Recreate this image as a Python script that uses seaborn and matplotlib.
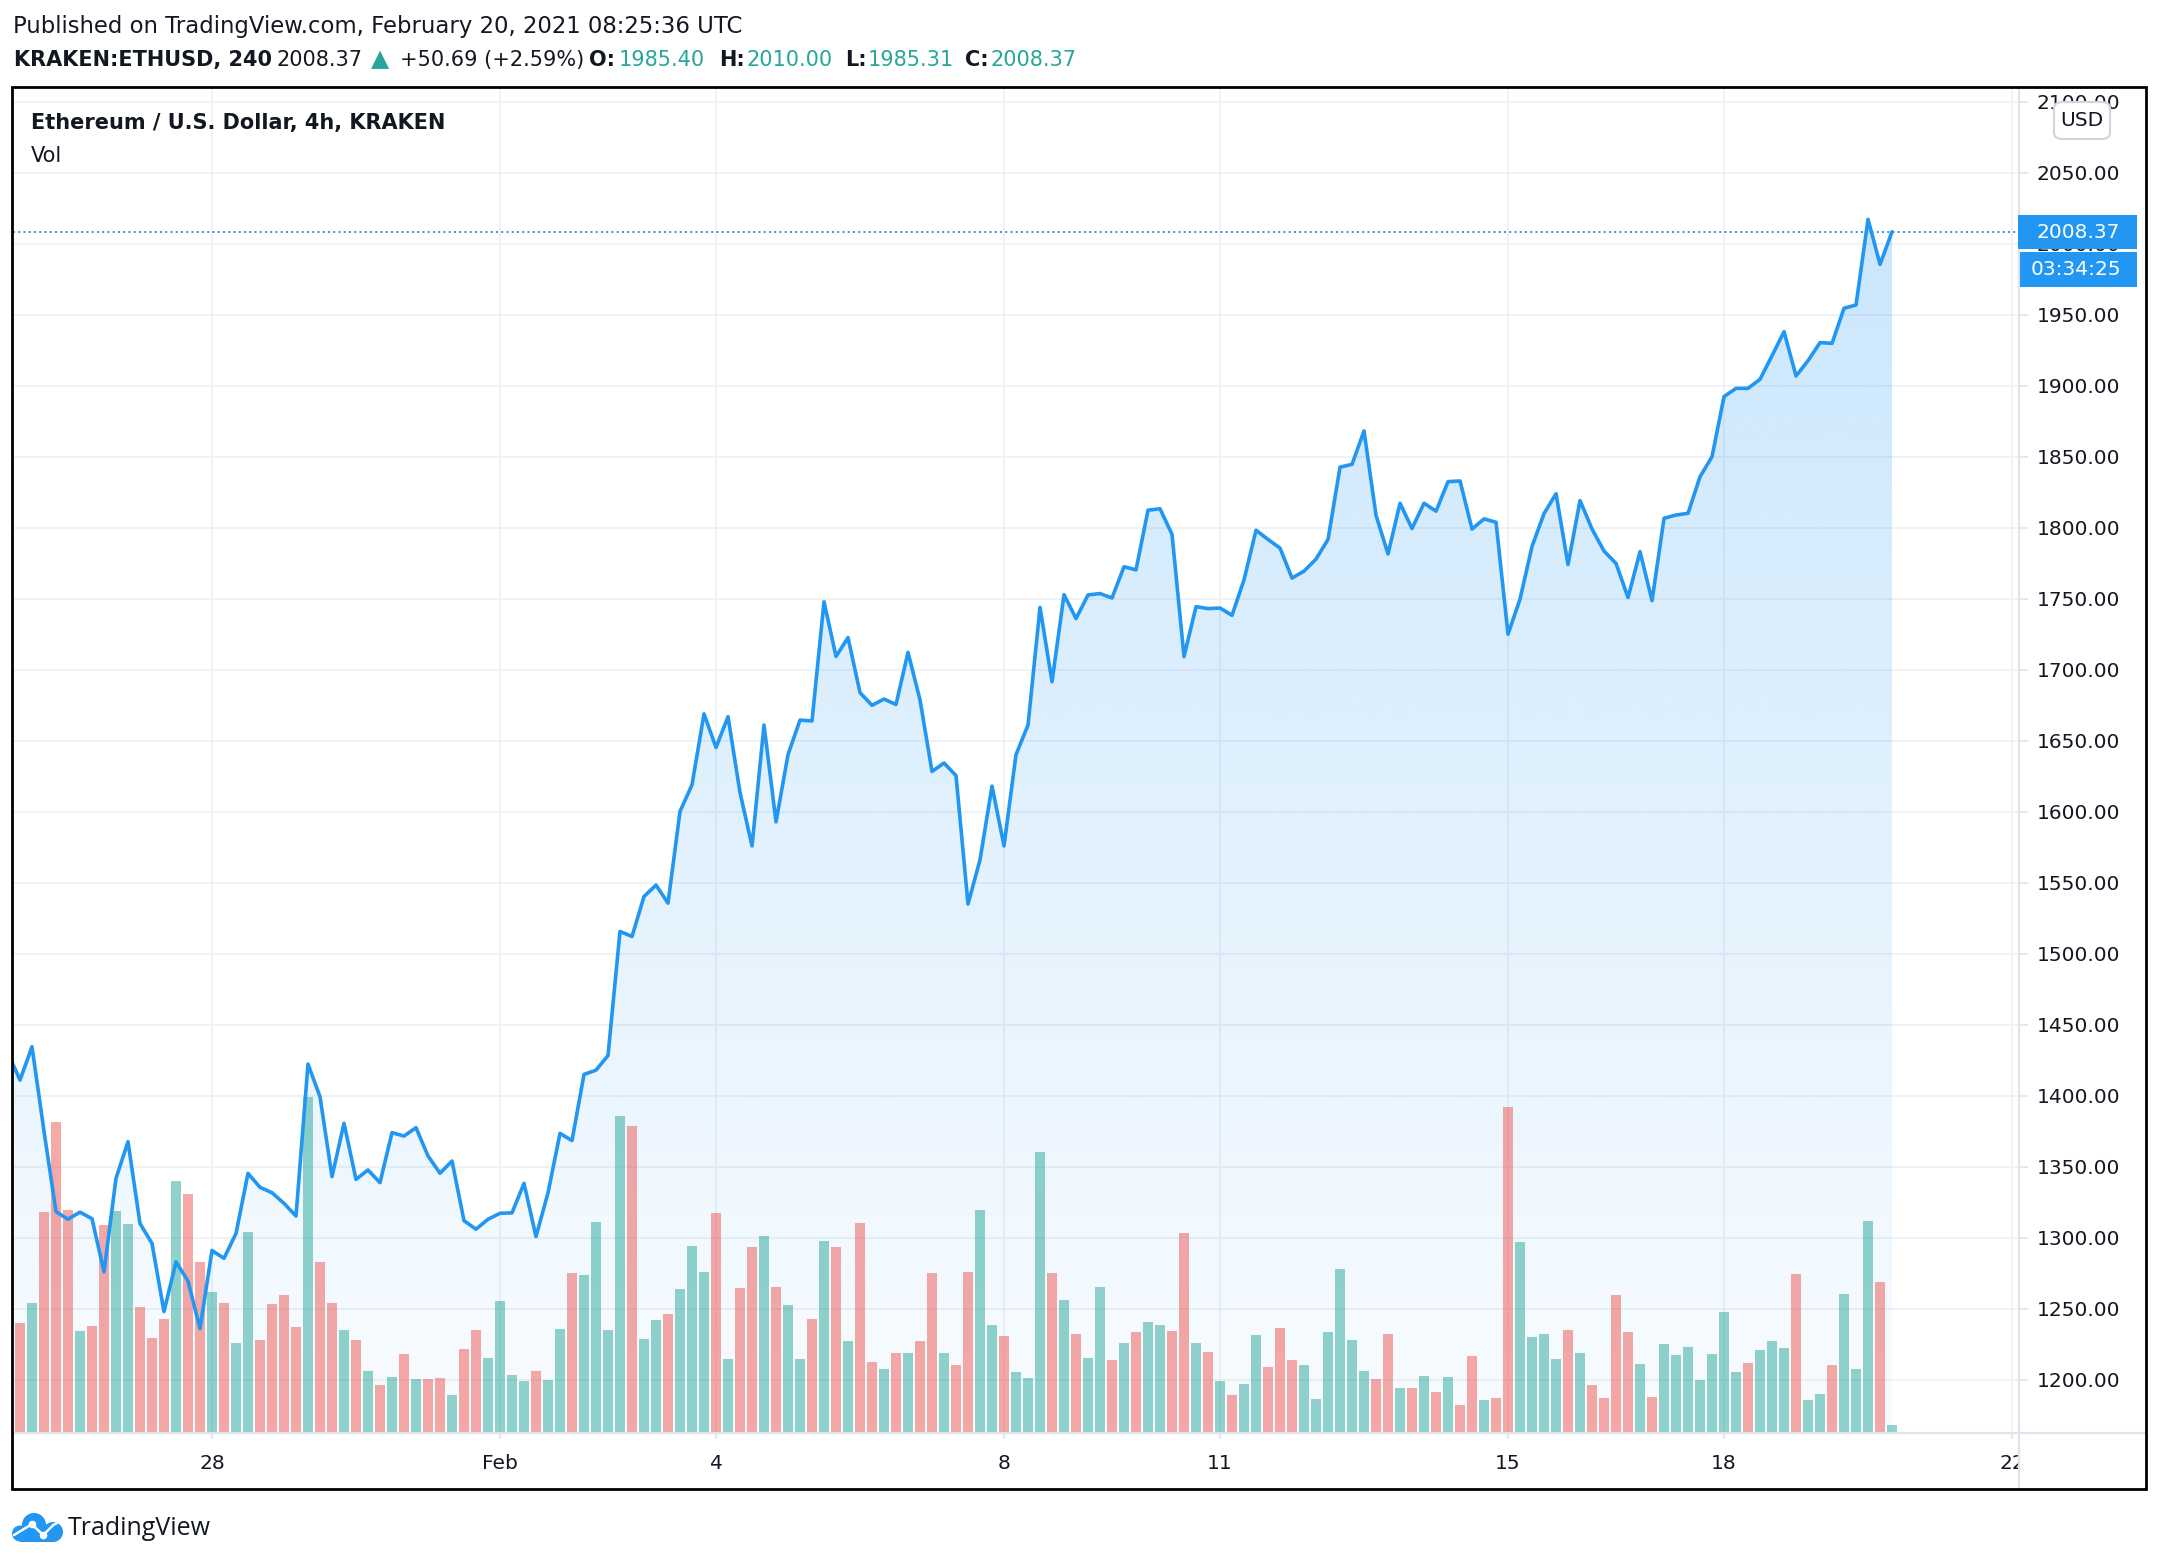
import matplotlib
matplotlib.use('Agg')
import matplotlib.pyplot as plt
import matplotlib.dates as mdates
from matplotlib.patches import Polygon, Rectangle, FancyBboxPatch, Circle
from matplotlib.lines import Line2D
import numpy as np
import pandas as pd
import seaborn as sns

# ETH/USD 4h closes; the first value is the bar just left of the window
close = [1430,
         1411, 1434.5, 1375, 1318.4, 1313, 1318, 1313.4, 1276, 1341.8, 1367.6,
         1310, 1296, 1248, 1283, 1269.5, 1236, 1291, 1285.5, 1303, 1345.3,
         1335.5, 1331.7, 1324.2, 1315.3, 1422.3, 1399.3, 1343, 1380.6, 1341.1, 1347.7,
         1338.8, 1374, 1371.6, 1377.5, 1357.6, 1345.4, 1354, 1312, 1306, 1313,
         1317.2, 1317.5, 1338.3, 1300.8, 1331.6, 1373.5, 1368.4, 1415, 1418, 1428.3,
         1515.7, 1512.1, 1540.3, 1548.3, 1535.6, 1600.2, 1618.9, 1668.9, 1645.2, 1666.9,
         1613.5, 1575.9, 1661, 1592.8, 1640.2, 1664.5, 1663.9, 1747.8, 1709.3, 1722.6,
         1683.8, 1674.9, 1679.3, 1675.5, 1712.2, 1678.7, 1628.3, 1634.3, 1625.4, 1535,
         1566.1, 1618, 1575.9, 1640.2, 1661, 1743.9, 1691.5, 1752.8, 1736, 1752.6,
         1753.6, 1750.5, 1772.5, 1770.3, 1812.3, 1813.3, 1795.3, 1709.2, 1744.4, 1743,
         1743.4, 1738.3, 1763.3, 1798.2, 1791.7, 1785.6, 1764.5, 1769.4, 1777.9, 1791.7,
         1842.6, 1844.6, 1868.1, 1808.7, 1781.5, 1817.2, 1799.4, 1817.2, 1811.6, 1832.4,
         1832.9, 1799, 1806.2, 1803.8, 1725, 1749.7, 1786.8, 1809.9, 1823.9, 1774,
         1819.1, 1799, 1783.5, 1774.8, 1750.8, 1783.1, 1748.6, 1806.6, 1808.9, 1810.1,
         1835.9, 1850, 1892.3, 1898.1, 1898.1, 1904.5, 1921.1, 1938, 1906.8, 1917.6,
         1930.3, 1929.8, 1954.5, 1956.8, 2017.1, 1985.4, 2008.37]

# volume per bar (relative units), from Jan 25 08:00 to Feb 20 08:00
volume = [327, 386, 659, 929, 665, 302, 317, 620, 662, 623,
          374, 281, 338, 752, 713, 509, 419, 386, 266, 599,
          275, 383, 410, 314, 1004, 509, 386, 305, 275, 182,
          140, 164, 233, 158, 158, 161, 110, 248, 305, 221,
          392, 170, 152, 182, 155, 308, 476, 470, 629, 305,
          947, 917, 278, 335, 353, 428, 557, 479, 656, 218,
          431, 554, 587, 434, 380, 218, 338, 572, 554, 272,
          626, 209, 188, 236, 236, 272, 476, 236, 200, 479,
          665, 320, 287, 179, 161, 839, 476, 395, 293, 221,
          434, 215, 266, 299, 329, 320, 302, 596, 266, 239,
          152, 110, 143, 290, 194, 311, 215, 200, 98, 299,
          488, 275, 182, 158, 293, 131, 131, 167, 119, 164,
          80, 227, 95, 101, 974, 569, 284, 293, 218, 305,
          236, 140, 101, 410, 299, 203, 104, 263, 230, 254,
          155, 233, 359, 179, 206, 245, 272, 251, 473, 95,
          113, 200, 413, 188, 632, 449, 20]

# 1 = bar closed up (teal), 0 = closed down (red)
up = [0, 1, 0, 0, 0, 1, 0, 0, 1, 1,
      0, 0, 0, 1, 0, 0, 1, 0, 1, 1,
      0, 0, 0, 0, 1, 0, 0, 1, 0, 1,
      0, 1, 0, 1, 0, 0, 1, 0, 0, 1,
      1, 1, 1, 0, 1, 1, 0, 1, 1, 1,
      1, 0, 1, 1, 0, 1, 1, 1, 0, 1,
      0, 0, 1, 0, 1, 1, 0, 1, 0, 1,
      0, 0, 1, 0, 1, 0, 0, 1, 0, 0,
      1, 1, 0, 1, 1, 1, 0, 1, 0, 1,
      1, 0, 1, 0, 1, 1, 0, 0, 1, 0,
      1, 0, 1, 1, 0, 0, 0, 1, 1, 1,
      1, 1, 1, 0, 0, 1, 0, 1, 0, 1,
      0, 0, 1, 0, 0, 1, 1, 1, 1, 0,
      1, 0, 0, 0, 0, 1, 0, 1, 1, 1,
      1, 1, 1, 1, 0, 1, 1, 1, 0, 1,
      1, 0, 1, 1, 1, 0, 1]

tick_days = ['2021-01-28', '2021-02-01', '2021-02-04', '2021-02-08',
             '2021-02-11', '2021-02-15', '2021-02-18', '2021-02-22']
tick_labels = ['28', 'Feb', '4', '8', '11', '15', '18', '22']
price_ticks = list(range(1200, 2101, 50))
last_price = 2008.37
countdown = '03:34:25'

W, H = 2160, 1564
DARK = '#131722'
BLUE = '#2196f3'
TEAL = '#26a69a'
GRID = '#eef0f3'
SEP = '#e0e3eb'


def fx(px):
    return px / W


def fy(py):
    return 1 - py / H


sns.set_style('white')
plt.rcParams['font.family'] = ['DejaVu Sans']

df = pd.DataFrame({'time': pd.date_range('2021-01-25 04:00', periods=len(close), freq='4h'),
                   'close': close})
df['x'] = mdates.date2num(df['time'])
vol = pd.DataFrame({'x': df['x'].values[1:], 'volume': volume, 'up': up})

fig = plt.figure(figsize=(W / 100, H / 100), dpi=100)
ax = fig.add_axes([fx(13), fy(1432), fx(2019) - fx(13), fy(87) - fy(1432)])

step = 1 / 6
t0 = vol['x'].iloc[0]
x_lo, x_hi = t0 - 0.583 * step, t0 + 166.58 * step
y_lo, y_hi = 1163.2, 2110.3

# gradient area under the line
rgba = np.zeros((256, 1, 4))
rgba[..., 0], rgba[..., 1], rgba[..., 2] = 33 / 255, 150 / 255, 243 / 255
rgba[..., 3] = np.linspace(0.03, 0.26, 256)[:, None]
im = ax.imshow(rgba, extent=[x_lo, x_hi, y_lo, y_hi], origin='lower', aspect='auto',
               interpolation='bilinear', zorder=1)
verts = [(df['x'].iloc[0], y_lo)] + list(zip(df['x'], df['close'])) + [(df['x'].iloc[-1], y_lo)]
area = Polygon(verts, closed=True, facecolor='none', edgecolor='none')
ax.add_patch(area)
im.set_clip_path(area)

# volume overlay (bottom quarter of the pane)
k = 0.249 * (y_hi - y_lo) / max(volume)
bar_colors = [(38 / 255, 166 / 255, 154 / 255, 0.5) if u else (239 / 255, 83 / 255, 80 / 255, 0.5)
              for u in vol['up']]
ax.bar(vol['x'], vol['volume'] * k, width=0.83 * step, bottom=y_lo, color=bar_colors,
       linewidth=0, zorder=2)

sns.lineplot(data=df, x='x', y='close', ax=ax, color=BLUE, linewidth=2.6,
             estimator=None, zorder=3)
ax.axhline(last_price, color=BLUE, linewidth=1.4, linestyle=(0, (1, 1.7)), zorder=3)

ax.set_xlim(x_lo, x_hi)
ax.set_ylim(y_lo, y_hi)
ax.set_xlabel('')
ax.set_ylabel('')
for s in ax.spines.values():
    s.set_visible(False)

ax.set_yticks(price_ticks)
ax.set_yticklabels([f'{v:.2f}' for v in price_ticks])
ax.yaxis.tick_right()
ax.tick_params(axis='y', left=False, right=True, length=6.5, width=1.2, color=SEP,
               pad=6, labelsize=14.5, labelcolor=DARK)
ax.set_xticks(mdates.date2num(pd.to_datetime(tick_days)))
ax.set_xticklabels(tick_labels)
ax.tick_params(axis='x', bottom=True, length=5, width=1.2, color=SEP,
               pad=11, labelsize=14.5, labelcolor=DARK)
ax.grid(True, color=GRID, linewidth=1.2)
ax.set_axisbelow(True)

# right price scale hides the end of the time scale
fig.add_artist(Rectangle((fx(2020), fy(1488)), fx(2145) - fx(2020), (1488 - 1434) / H,
                         transform=fig.transFigure, facecolor='white', edgecolor='none', zorder=5))
fig.add_artist(Line2D([fx(13), fx(2146)], [fy(1432.5), fy(1432.5)], color=SEP, linewidth=1.6, zorder=6))
fig.add_artist(Line2D([fx(2019), fx(2019)], [fy(87), fy(1489)], color=SEP, linewidth=1.6, zorder=6))
fig.add_artist(Rectangle((fx(12), fy(1489)), fx(2146) - fx(12), (1489 - 87) / H,
                         transform=fig.transFigure, fill=False, edgecolor='black', linewidth=2, zorder=7))

# last price and countdown labels
fig.add_artist(Rectangle((fx(2018), fy(249)), fx(2137) - fx(2018), 34 / H,
                         transform=fig.transFigure, facecolor=BLUE, edgecolor='none', zorder=8))
fig.add_artist(Rectangle((fx(2020), fy(287)), fx(2137) - fx(2020), 35 / H,
                         transform=fig.transFigure, facecolor=BLUE, edgecolor='none', zorder=8))
fig.text(fx(2078), fy(232), f'{last_price:.2f}', color='white', fontsize=14.5,
         ha='center', va='center', zorder=9)
fig.text(fx(2076), fy(269.5), countdown, color='white', fontsize=14.5,
         ha='center', va='center', zorder=9)

fig.add_artist(FancyBboxPatch((fx(2054), fy(139)), fx(2110) - fx(2054), 37 / H,
                              boxstyle='round,pad=0,rounding_size=0.004',
                              transform=fig.transFigure, facecolor='white',
                              edgecolor='#d1d4dc', linewidth=1.5, zorder=8))
fig.text(fx(2082), fy(120.5), 'USD', color=DARK, fontsize=14.5, ha='center', va='center', zorder=9)

# legend inside the pane
fig.text(fx(31), fy(128.5), 'Ethereum / U.S. Dollar, 4h, KRAKEN', color=DARK, fontsize=15,
         fontweight='bold', va='baseline', zorder=9)
fig.text(fx(31), fy(162), 'Vol', color=DARK, fontsize=15, va='baseline', zorder=9)

# header
fig.text(fx(13), fy(32.7), 'Published on TradingView.com, February 20, 2021 08:25:36 UTC',
         color=DARK, fontsize=16.4, va='baseline')
header = [('KRAKEN:ETHUSD, 240', 14, 'bold', DARK, 15),
          ('2008.37', 277, 'normal', DARK, 15),
          ('\u25b2', 371, 'normal', TEAL, 17),
          ('+50.69 (+2.59%)', 400, 'normal', DARK, 15),
          ('O:', 589, 'bold', DARK, 15),
          ('1985.40', 619, 'normal', TEAL, 15),
          ('H:', 719, 'bold', DARK, 15),
          ('2010.00', 747, 'normal', TEAL, 15),
          ('L:', 845, 'bold', DARK, 15),
          ('1985.31', 868, 'normal', TEAL, 15),
          ('C:', 965, 'bold', DARK, 15),
          ('2008.37', 991, 'normal', TEAL, 15)]
for txt, x0, wt, col, size in header:
    fig.text(fx(x0), fy(65.7), txt, color=col, fontsize=size, fontweight=wt, va='baseline')

# footer logo: blue cloud with a small white line chart
lax = fig.add_axes([fx(11), fy(1544), fx(64) - fx(11), (1544 - 1510) / H])
lax.set_xlim(0, 53)
lax.set_ylim(0, 34)
lax.axis('off')
for cx, cy, r in [(9, 10.5, 8), (23, 19, 12), (42, 12, 10)]:
    lax.add_patch(Circle((cx, cy), r, color=BLUE, linewidth=0))
lax.add_patch(Rectangle((9, 2.5), 33, 12, color=BLUE, linewidth=0))
lax.plot([3, 20.7, 32.3, 42.3, 50], [9, 19.7, 9, 19, 23], color='white', linewidth=1.8,
         solid_capstyle='round')
lax.plot([20.7, 32.3], [19.7, 9], 'o', color='white', markersize=4.5)
fig.text(fx(68), fy(1535), 'TradingView', family=['Open Sans', 'DejaVu Sans'],
         color=DARK, fontsize=18, va='baseline')

fig.savefig('out.png', dpi=100)
